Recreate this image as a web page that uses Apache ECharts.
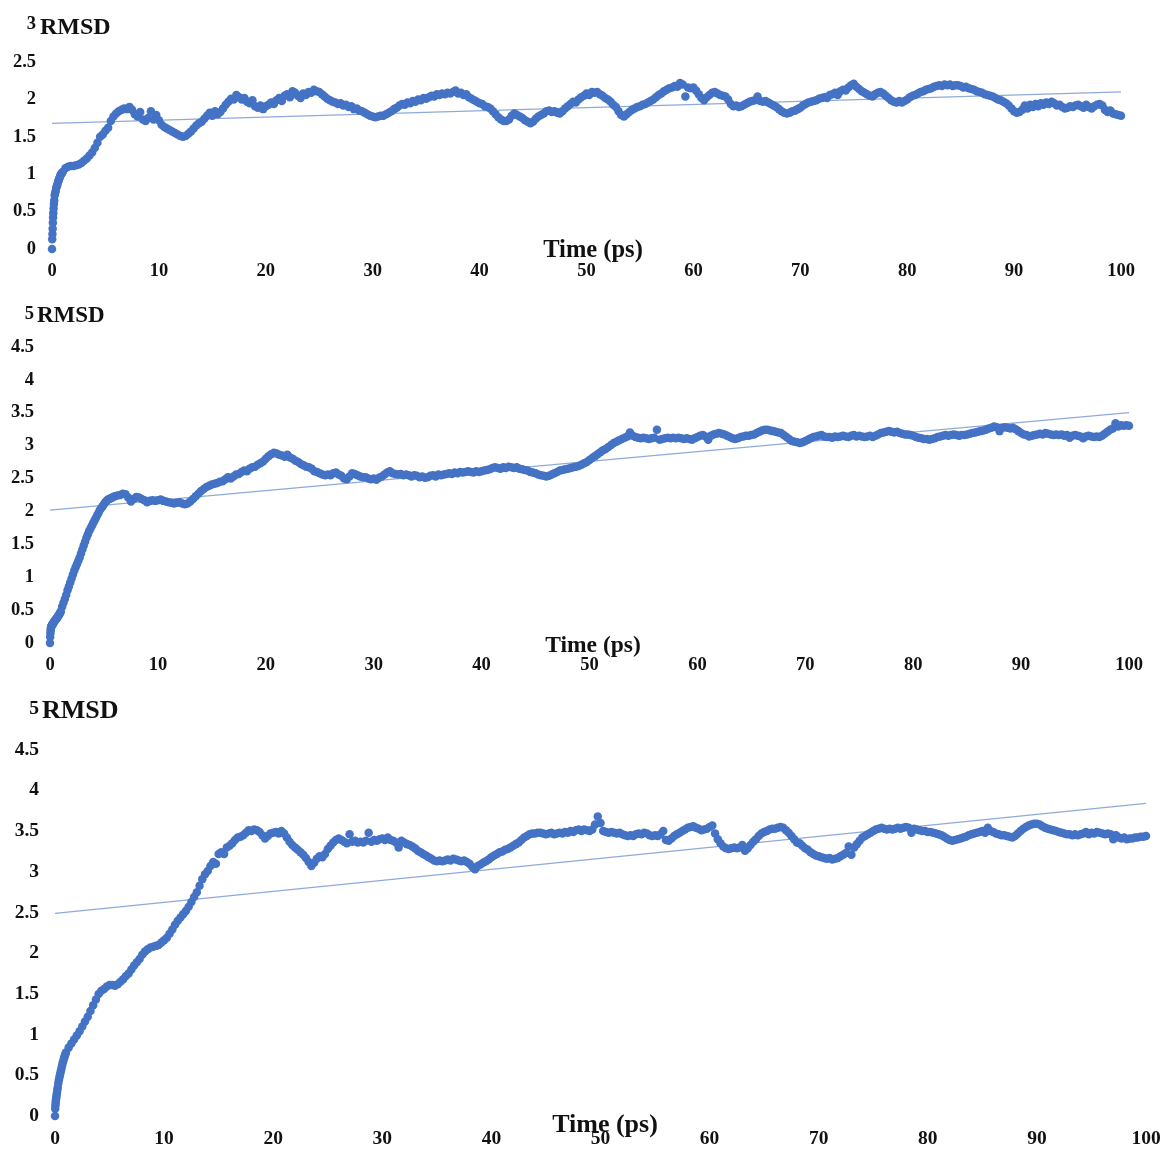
<!DOCTYPE html>
<html>
<head>
<meta charset="utf-8">
<script src="https://cdn.jsdelivr.net/npm/echarts@6/dist/echarts.min.js"></script>
<style>
  html, body { margin: 0; padding: 0; background: #ffffff; }
  #chart { width: 1165px; height: 1149px; }
</style>
</head>
<body>
<div id="chart"></div>
<script>
// RMSD trajectories (Å) sampled every 0.25 ps over 0–100 ps, three systems.
const timeStep = 0.25;
const time = Array.from({ length: 401 }, (_, i) => i * timeStep);

// Extra frames recorded during the first picosecond.
const startTime = [0.02, 0.04, 0.06, 0.08, 0.1, 0.12, 0.15, 0.18, 0.21, 0.3, 0.35,
                   0.4, 0.45, 0.55, 0.6, 0.65, 0.7, 0.8, 0.85, 0.9, 0.95];
// Intermediate frames for the fast rise of the second system.
const midTime = [1.125, 1.375, 1.625, 1.875, 2.125, 2.375, 2.625, 2.875, 3.125, 3.375,
                 3.625, 3.875, 4.125, 4.375, 4.625, 4.875, 5.125, 5.375, 5.625, 5.875];

const rmsd1Start = [0.13, 0.20, 0.27, 0.35, 0.42, 0.48, 0.54, 0.60, 0.65, 0.75, 0.78,
                    0.82, 0.84, 0.89, 0.91, 0.93, 0.95, 0.99, 1.00, 1.01, 1.02];
const rmsd1 = [
  0, 0.72, 0.86, 0.97, 1.03, 1.08, 1.10, 1.11, 1.11, 1.12, 1.13, 1.15, 1.18, 1.21, 1.25, 1.29, 1.35, 1.42, 1.50, 1.53,
  1.58, 1.62, 1.71, 1.77, 1.81, 1.84, 1.86, 1.88, 1.87, 1.90, 1.86, 1.80, 1.77, 1.83, 1.73, 1.71, 1.75, 1.84, 1.73, 1.79,
  1.72, 1.66, 1.63, 1.61, 1.59, 1.57, 1.55, 1.53, 1.51, 1.50, 1.51, 1.54, 1.57, 1.61, 1.65, 1.68, 1.70, 1.74, 1.78, 1.82,
  1.78, 1.84, 1.80, 1.83, 1.88, 1.93, 1.97, 2.01, 2.00, 2.06, 2.03, 2.00, 2.02, 1.97, 1.95, 1.99, 1.91, 1.89, 1.92, 1.87,
  1.91, 1.93, 1.96, 1.94, 1.99, 2.02, 1.98, 2.05, 2.07, 2.03, 2.11, 2.09, 2.05, 2.02, 2.08, 2.06, 2.10, 2.09, 2.13, 2.11,
  2.10, 2.07, 2.04, 2.01, 1.99, 1.97, 1.96, 1.94, 1.95, 1.92, 1.93, 1.90, 1.91, 1.87, 1.88, 1.85, 1.84, 1.82, 1.80, 1.78,
  1.77, 1.76, 1.77, 1.78, 1.78, 1.80, 1.82, 1.84, 1.87, 1.89, 1.92, 1.94, 1.93, 1.96, 1.95, 1.98, 1.97, 2.00, 1.99, 2.02,
  2.01, 2.03, 2.05, 2.04, 2.07, 2.06, 2.08, 2.07, 2.09, 2.08, 2.10, 2.12, 2.08, 2.09, 2.06, 2.07, 2.03, 2.01, 1.99, 1.97,
  1.95, 1.94, 1.91, 1.90, 1.88, 1.84, 1.80, 1.76, 1.73, 1.71, 1.71, 1.73, 1.78, 1.81, 1.79, 1.77, 1.75, 1.72, 1.70, 1.68,
  1.70, 1.74, 1.77, 1.79, 1.81, 1.84, 1.85, 1.83, 1.84, 1.82, 1.81, 1.84, 1.88, 1.91, 1.94, 1.97, 1.96, 2.00, 2.03, 2.05,
  2.08, 2.06, 2.10, 2.09, 2.10, 2.07, 2.05, 2.02, 2.00, 1.97, 1.93, 1.90, 1.84, 1.79, 1.77, 1.80, 1.83, 1.86, 1.88, 1.90,
  1.91, 1.93, 1.94, 1.96, 1.98, 2.00, 2.03, 2.06, 2.08, 2.11, 2.13, 2.15, 2.16, 2.18, 2.17, 2.22, 2.20, 2.04, 2.16, 2.15,
  2.16, 2.12, 2.07, 2.02, 1.99, 2.03, 2.06, 2.09, 2.10, 2.08, 2.06, 2.05, 2.04, 2.00, 1.94, 1.91, 1.92, 1.90, 1.91, 1.93,
  1.95, 1.97, 1.98, 1.99, 2.04, 1.98, 1.97, 1.98, 1.96, 1.94, 1.92, 1.90, 1.87, 1.84, 1.82, 1.81, 1.82, 1.84, 1.85, 1.87,
  1.89, 1.92, 1.94, 1.96, 1.97, 1.98, 1.99, 2.01, 2.02, 2.03, 2.02, 2.06, 2.07, 2.09, 2.06, 2.11, 2.13, 2.12, 2.16, 2.19,
  2.21, 2.17, 2.14, 2.11, 2.09, 2.07, 2.05, 2.04, 2.07, 2.09, 2.10, 2.08, 2.05, 2.02, 1.99, 1.97, 1.96, 1.98, 1.96, 1.98,
  2.00, 2.03, 2.05, 2.06, 2.08, 2.10, 2.11, 2.13, 2.14, 2.15, 2.17, 2.18, 2.19, 2.18, 2.20, 2.19, 2.20, 2.18, 2.19, 2.19,
  2.18, 2.16, 2.17, 2.15, 2.14, 2.13, 2.11, 2.10, 2.09, 2.07, 2.06, 2.05, 2.04, 2.02, 2.00, 1.99, 1.97, 1.95, 1.92, 1.88,
  1.84, 1.82, 1.83, 1.86, 1.92, 1.88, 1.93, 1.90, 1.94, 1.91, 1.95, 1.93, 1.96, 1.94, 1.97, 1.95, 1.92, 1.93, 1.90, 1.88,
  1.89, 1.91, 1.90, 1.92, 1.93, 1.91, 1.89, 1.93, 1.90, 1.88, 1.91, 1.93, 1.94, 1.92, 1.86, 1.83, 1.85, 1.81, 1.80, 1.79,
  1.78
];

const rmsd2Start = [0.09, 0.15, 0.19, 0.22, 0.24, 0.25, 0.26, 0.27, 0.28, 0.30, 0.31,
                    0.33, 0.34, 0.36, 0.37, 0.38, 0.39, 0.42, 0.43, 0.45, 0.46];
const rmsd2Mid = [0.55, 0.67, 0.80, 0.92, 1.04, 1.15, 1.25, 1.36, 1.48, 1.60,
                  1.70, 1.78, 1.86, 1.94, 2.02, 2.08, 2.14, 2.18, 2.20, 2.22];
const rmsd2 = [
  0, 0.28, 0.35, 0.41, 0.48, 0.61, 0.73, 0.86, 0.98, 1.10, 1.20, 1.30, 1.42, 1.54, 1.65, 1.74, 1.82, 1.90, 1.98, 2.05,
  2.11, 2.16, 2.19, 2.21, 2.23, 2.24, 2.25, 2.27, 2.26, 2.21, 2.15, 2.19, 2.22, 2.21, 2.19, 2.17, 2.14, 2.16, 2.17, 2.16,
  2.17, 2.18, 2.16, 2.15, 2.14, 2.13, 2.12, 2.13, 2.14, 2.12, 2.11, 2.12, 2.15, 2.19, 2.23, 2.27, 2.31, 2.34, 2.37, 2.39,
  2.41, 2.42, 2.43, 2.45, 2.46, 2.49, 2.52, 2.50, 2.53, 2.56, 2.57, 2.60, 2.62, 2.61, 2.65, 2.67, 2.68, 2.71, 2.73, 2.76,
  2.80, 2.84, 2.87, 2.89, 2.88, 2.86, 2.85, 2.83, 2.86, 2.82, 2.80, 2.77, 2.75, 2.72, 2.70, 2.68, 2.67, 2.65, 2.61, 2.60,
  2.58, 2.56, 2.55, 2.56, 2.55, 2.58, 2.59, 2.56, 2.54, 2.50, 2.49, 2.53, 2.58, 2.57, 2.55, 2.53, 2.52, 2.52, 2.50, 2.49,
  2.50, 2.48, 2.51, 2.53, 2.56, 2.59, 2.61, 2.58, 2.57, 2.56, 2.57, 2.55, 2.56, 2.55, 2.53, 2.55, 2.54, 2.52, 2.53, 2.51,
  2.52, 2.54, 2.55, 2.53, 2.56, 2.55, 2.56, 2.57, 2.58, 2.57, 2.59, 2.58, 2.60, 2.59, 2.60, 2.61, 2.60, 2.59, 2.61, 2.60,
  2.61, 2.62, 2.63, 2.64, 2.66, 2.67, 2.66, 2.65, 2.67, 2.66, 2.68, 2.67, 2.66, 2.67, 2.65, 2.64, 2.63, 2.62, 2.60, 2.59,
  2.58, 2.56, 2.55, 2.54, 2.53, 2.54, 2.56, 2.58, 2.60, 2.62, 2.63, 2.64, 2.65, 2.66, 2.67, 2.68, 2.69, 2.71, 2.73, 2.75,
  2.78, 2.81, 2.84, 2.87, 2.90, 2.93, 2.95, 2.98, 3.01, 3.04, 3.06, 3.08, 3.10, 3.12, 3.14, 3.20, 3.15, 3.13, 3.12, 3.11,
  3.12, 3.11, 3.10, 3.11, 3.12, 3.24, 3.09, 3.10, 3.11, 3.12, 3.11, 3.12, 3.11, 3.12, 3.11, 3.10, 3.11, 3.10, 3.09, 3.11,
  3.13, 3.15, 3.16, 3.14, 3.09, 3.15, 3.17, 3.18, 3.19, 3.18, 3.17, 3.15, 3.13, 3.11, 3.10, 3.11, 3.13, 3.14, 3.15, 3.15,
  3.16, 3.17, 3.19, 3.21, 3.23, 3.24, 3.24, 3.23, 3.22, 3.21, 3.20, 3.19, 3.16, 3.13, 3.10, 3.07, 3.06, 3.05, 3.04, 3.05,
  3.07, 3.09, 3.11, 3.13, 3.14, 3.15, 3.16, 3.14, 3.13, 3.13, 3.12, 3.14, 3.13, 3.14, 3.15, 3.14, 3.13, 3.15, 3.16, 3.14,
  3.15, 3.14, 3.13, 3.14, 3.15, 3.13, 3.15, 3.17, 3.19, 3.20, 3.21, 3.22, 3.21, 3.20, 3.21, 3.19, 3.18, 3.17, 3.17, 3.16,
  3.15, 3.13, 3.12, 3.11, 3.10, 3.10, 3.09, 3.10, 3.11, 3.13, 3.14, 3.15, 3.16, 3.15, 3.16, 3.17, 3.16, 3.15, 3.16, 3.16,
  3.17, 3.18, 3.19, 3.20, 3.21, 3.22, 3.23, 3.24, 3.26, 3.27, 3.29, 3.28, 3.22, 3.27, 3.28, 3.27, 3.26, 3.27, 3.25, 3.22,
  3.19, 3.17, 3.16, 3.14, 3.15, 3.16, 3.17, 3.18, 3.17, 3.19, 3.18, 3.17, 3.16, 3.17, 3.16, 3.17, 3.15, 3.16, 3.12, 3.15,
  3.16, 3.15, 3.14, 3.11, 3.14, 3.15, 3.14, 3.13, 3.14, 3.13, 3.15, 3.18, 3.21, 3.24, 3.26, 3.34, 3.29, 3.31, 3.30, 3.31,
  3.30
];

const rmsd3Start = [0.09, 0.13, 0.16, 0.19, 0.21, 0.23, 0.26, 0.29, 0.32, 0.40, 0.44,
                    0.47, 0.50, 0.56, 0.59, 0.62, 0.65, 0.70, 0.72, 0.74, 0.76];
const rmsd3 = [
  0, 0.35, 0.53, 0.67, 0.78, 0.84, 0.89, 0.94, 0.99, 1.04, 1.10, 1.16, 1.22, 1.29, 1.36, 1.43, 1.50, 1.54, 1.56, 1.59,
  1.61, 1.61, 1.60, 1.62, 1.65, 1.68, 1.72, 1.75, 1.80, 1.85, 1.89, 1.93, 1.98, 2.02, 2.05, 2.07, 2.08, 2.09, 2.10, 2.13,
  2.16, 2.19, 2.24, 2.29, 2.35, 2.40, 2.44, 2.48, 2.52, 2.57, 2.63, 2.69, 2.75, 2.83, 2.91, 2.97, 3.01, 3.07, 3.12, 3.10,
  3.22, 3.24, 3.22, 3.30, 3.32, 3.35, 3.39, 3.42, 3.43, 3.45, 3.48, 3.51, 3.50, 3.52, 3.51, 3.49, 3.45, 3.41, 3.44, 3.47,
  3.48, 3.49, 3.47, 3.50, 3.47, 3.42, 3.37, 3.33, 3.30, 3.27, 3.24, 3.21, 3.17, 3.12, 3.07, 3.11, 3.16, 3.19, 3.18, 3.22,
  3.28, 3.32, 3.36, 3.39, 3.41, 3.39, 3.37, 3.35, 3.46, 3.37, 3.38, 3.36, 3.37, 3.36, 3.38, 3.48, 3.37, 3.39, 3.38, 3.40,
  3.41, 3.39, 3.42, 3.39, 3.38, 3.36, 3.30, 3.38, 3.36, 3.34, 3.33, 3.31, 3.29, 3.26, 3.24, 3.22, 3.20, 3.18, 3.16, 3.14,
  3.13, 3.14, 3.13, 3.14, 3.15, 3.14, 3.16, 3.15, 3.14, 3.13, 3.14, 3.12, 3.10, 3.06, 3.03, 3.07, 3.09, 3.11, 3.13, 3.15,
  3.18, 3.20, 3.22, 3.24, 3.25, 3.27, 3.28, 3.30, 3.32, 3.34, 3.36, 3.39, 3.42, 3.44, 3.46, 3.47, 3.47, 3.48, 3.48, 3.47,
  3.46, 3.47, 3.48, 3.46, 3.47, 3.48, 3.47, 3.49, 3.48, 3.50, 3.49, 3.51, 3.52, 3.50, 3.52, 3.51, 3.50, 3.52, 3.58, 3.68,
  3.60, 3.50, 3.49, 3.48, 3.49, 3.48, 3.47, 3.48, 3.46, 3.45, 3.44, 3.45, 3.44, 3.46, 3.47, 3.46, 3.48, 3.47, 3.45, 3.44,
  3.45, 3.44, 3.46, 3.50, 3.39, 3.38, 3.41, 3.44, 3.46, 3.48, 3.50, 3.52, 3.54, 3.55, 3.56, 3.54, 3.53, 3.51, 3.52, 3.53,
  3.55, 3.57, 3.47, 3.40, 3.35, 3.31, 3.29, 3.28, 3.29, 3.30, 3.29, 3.30, 3.33, 3.26, 3.29, 3.33, 3.37, 3.40, 3.44, 3.47,
  3.49, 3.50, 3.52, 3.53, 3.53, 3.54, 3.55, 3.54, 3.51, 3.48, 3.44, 3.40, 3.36, 3.35, 3.32, 3.29, 3.27, 3.24, 3.22, 3.20,
  3.19, 3.18, 3.17, 3.16, 3.17, 3.15, 3.16, 3.17, 3.19, 3.21, 3.23, 3.31, 3.21, 3.30, 3.34, 3.38, 3.42, 3.44, 3.46, 3.48,
  3.50, 3.52, 3.53, 3.54, 3.53, 3.52, 3.53, 3.52, 3.53, 3.54, 3.53, 3.54, 3.55, 3.54, 3.48, 3.53, 3.52, 3.51, 3.50, 3.50,
  3.49, 3.49, 3.48, 3.47, 3.46, 3.45, 3.43, 3.41, 3.39, 3.38, 3.39, 3.40, 3.41, 3.42, 3.43, 3.45, 3.46, 3.47, 3.48, 3.49,
  3.50, 3.48, 3.54, 3.50, 3.49, 3.47, 3.46, 3.45, 3.45, 3.44, 3.43, 3.42, 3.44, 3.47, 3.50, 3.53, 3.55, 3.57, 3.58, 3.59,
  3.59, 3.58, 3.56, 3.54, 3.53, 3.52, 3.51, 3.50, 3.49, 3.48, 3.47, 3.46, 3.46, 3.45, 3.46, 3.45, 3.46, 3.47, 3.49, 3.46,
  3.48, 3.47, 3.49, 3.48, 3.47, 3.46, 3.47, 3.46, 3.40, 3.45, 3.42, 3.41, 3.42, 3.40, 3.41, 3.41, 3.42, 3.42, 3.43, 3.43,
  3.44
];

// Linear trend lines: RMSD at t = 0 ps and t = 100 ps.
const trendStart = [1.68, 2.02, 2.49];
const trendEnd = [2.10, 3.50, 3.84];

const yMaxima = [3, 5, 5];
const xTicks = [0, 10, 20, 30, 40, 50, 60, 70, 80, 90, 100];

// Panel layout (pixels) and text sizes.
const panels = [
  { left: 52, right: 44, top: 24.6, height: 224.4, tick: 18.5, title: 24, titleX: 40, titleY: 27.5, name: 24.5, nameX: 593, nameY: 251 },
  { left: 50, right: 36, top: 314, height: 329, tick: 18.5, title: 23, titleX: 37, titleY: 316, name: 23.5, nameX: 593, nameY: 646 },
  { left: 55, right: 19, top: 709, height: 409, tick: 19.5, title: 26, titleX: 42, titleY: 711, name: 26, nameX: 605, nameY: 1125 }
];

const seriesValues = [
  { extra: [[startTime, rmsd1Start]], main: rmsd1 },
  { extra: [[startTime, rmsd2Start], [midTime, rmsd2Mid]], main: rmsd2 },
  { extra: [[startTime, rmsd3Start]], main: rmsd3 }
];

const FONT = '"Liberation Serif", "Times New Roman", serif';
const DOT = '#4472C4';
const TREND = '#8EAADB';
const INK = '#111111';

const grid = [], xAxis = [], yAxis = [], series = [], graphic = [];

panels.forEach((p, i) => {
  grid.push({ left: p.left, right: p.right, top: p.top, height: p.height, containLabel: false });

  xAxis.push({
    type: 'value', gridIndex: i, min: 0, max: 100, interval: 10,
    axisLine: { show: false }, axisTick: { show: false }, splitLine: { show: false },
    axisLabel: { margin: 13, fontFamily: FONT, fontWeight: 'bold', fontSize: p.tick, color: INK,
                 customValues: xTicks }
  });

  yAxis.push({
    type: 'value', gridIndex: i, min: 0, max: yMaxima[i], interval: 0.5,
    axisLine: { show: false }, axisTick: { show: false }, splitLine: { show: false },
    axisLabel: { margin: 16, fontFamily: FONT, fontWeight: 'bold', fontSize: p.tick, color: INK }
  });

  // Axis titles
  graphic.push({
    type: 'text', x: p.titleX, y: p.titleY, silent: true,
    style: { text: 'RMSD', fill: INK, align: 'left', verticalAlign: 'middle',
             font: 'bold ' + p.title + 'px ' + FONT }
  });
  graphic.push({
    type: 'text', x: p.nameX, y: p.nameY, silent: true,
    style: { text: 'Time (ps)', fill: INK, align: 'center', verticalAlign: 'middle',
             font: 'bold ' + p.name + 'px ' + FONT }
  });

  const pts = [];
  seriesValues[i].extra.forEach(([ts, vs]) => ts.forEach((t, k) => pts.push([t, vs[k]])));
  seriesValues[i].main.forEach((v, k) => pts.push([time[k], v]));

  series.push({
    type: 'line', xAxisIndex: i, yAxisIndex: i, silent: true, z: 1,
    symbol: 'none', lineStyle: { color: TREND, width: 1.2 },
    data: [[0, trendStart[i]], [100, trendEnd[i]]]
  });
  series.push({
    type: 'scatter', xAxisIndex: i, yAxisIndex: i, z: 2,
    symbolSize: 8.5, itemStyle: { color: DOT, opacity: 1 },
    data: pts
  });
});

const chart = echarts.init(document.getElementById('chart'), null, { renderer: 'canvas' });
chart.setOption({
  backgroundColor: '#ffffff',
  animation: false,
  grid, xAxis, yAxis, series, graphic
});
</script>
</body>
</html>
